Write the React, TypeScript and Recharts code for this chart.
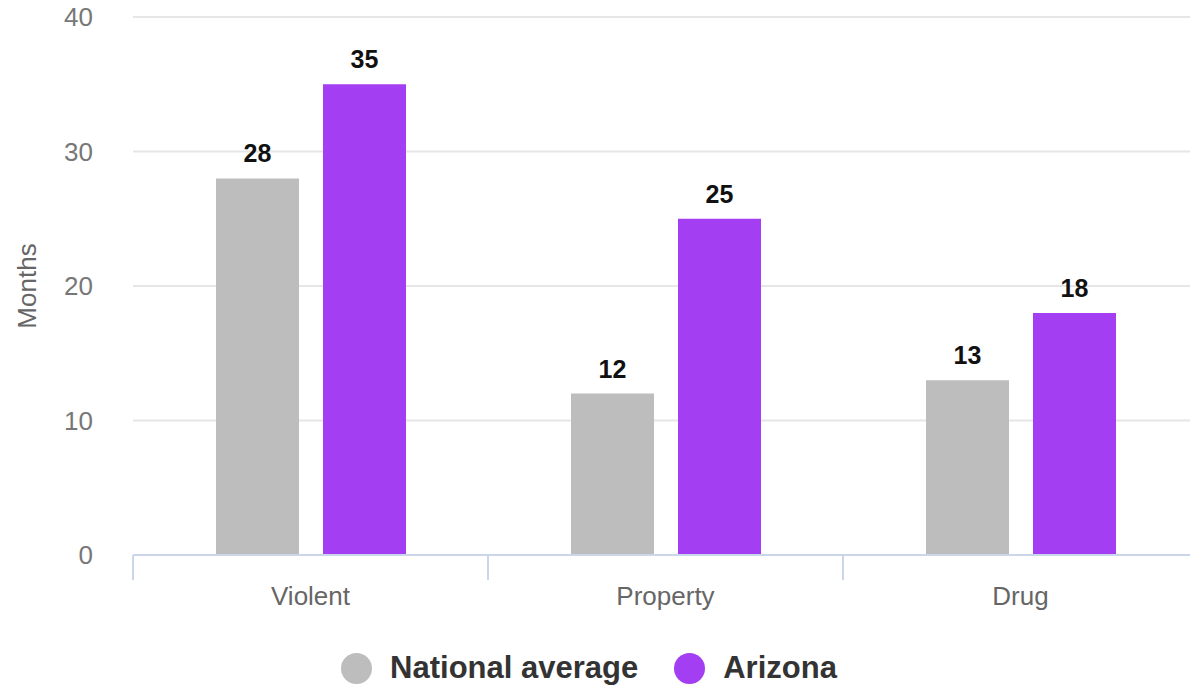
import React from "react";
import {
  BarChart, Bar, XAxis, YAxis, CartesianGrid, Legend, LabelList
} from "recharts";

const categories = ["Violent", "Property", "Drug"];
const nationalAverage = [28, 12, 13];
const arizona = [35, 25, 18];
const yTicks = [0, 10, 20, 30, 40];

const SERIES = [
  { key: "national", name: "National average", color: "#bdbdbd" },
  { key: "arizona", name: "Arizona", color: "#a33ef2" },
];

const data = categories.map((c, i) => ({
  category: c,
  national: nationalAverage[i],
  arizona: arizona[i],
}));

const FONT = '"Liberation Sans", Arial, Helvetica, sans-serif';
const AXIS_COLOR = "#ccd6eb";

const CategoryTick = (props: any) => {
  const { x, y, payload } = props;
  const half = payload && payload.offset ? payload.offset : 177.5;
  return (
    <g>
      <line x1={x - half} y1={y} x2={x - half} y2={y + 25} stroke={AXIS_COLOR} strokeWidth={2} />
      <text x={x} y={y + 50} textAnchor="middle" fill="#666" fontSize={26} fontFamily={FONT}>
        {payload.value}
      </text>
    </g>
  );
};

const renderLegend = () => (
  <div
    style={{
      height: 50,
      paddingTop: 6,
      paddingRight: 20,
      boxSizing: "border-box",
      display: "flex",
      justifyContent: "center",
      alignItems: "center",
      fontFamily: FONT,
    }}
  >
    {SERIES.map((s, i) => (
      <div key={s.key} style={{ display: "flex", alignItems: "center", marginLeft: i ? 36 : 0 }}>
        <span
          style={{
            width: 31, height: 31, borderRadius: "50%", background: s.color,
            display: "inline-block", marginRight: 18,
          }}
        />
        <span style={{ fontSize: 31, fontWeight: "bold", color: "#333" }}>{s.name}</span>
      </div>
    ))}
  </div>
);

export default function App() {
  return (
    <div style={{ position: "fixed", left: 0, top: 0, width: 1190, height: 690, overflow: "hidden", background: "#fff" }}>
      <BarChart
        width={1200}
        height={690}
        data={data}
        margin={{ top: 17, right: 2, bottom: 0, left: 0 }}
        barSize={83}
        barGap={24}
      >
        <CartesianGrid vertical={false} stroke="#e6e6e6" strokeWidth={2} />
        <XAxis
          dataKey="category"
          height={85}
          tickSize={0}
          tickMargin={0}
          tickLine={false}
          axisLine={{ stroke: AXIS_COLOR, strokeWidth: 2 }}
          tick={<CategoryTick />}
        />
        <YAxis
          width={133}
          domain={[0, 40]}
          ticks={yTicks}
          tickSize={0}
          tickMargin={40}
          tickLine={false}
          axisLine={false}
          tick={{ fill: "#777", fontSize: 26, fontFamily: FONT }}
          label={{
            value: "Months", angle: -90, position: "center", dx: -40,
            style: { fill: "#666", fontSize: 26, fontFamily: FONT, textAnchor: "middle" },
          }}
        />
        <Legend verticalAlign="bottom" height={50} content={renderLegend} />
        {SERIES.map((s) => (
          <Bar key={s.key} dataKey={s.key} name={s.name} fill={s.color} isAnimationActive={false}>
            <LabelList
              dataKey={s.key}
              position="top"
              offset={16}
              style={{ fill: "#111", fontSize: 25, fontWeight: "bold", fontFamily: FONT }}
            />
          </Bar>
        ))}
      </BarChart>
    </div>
  );
}
